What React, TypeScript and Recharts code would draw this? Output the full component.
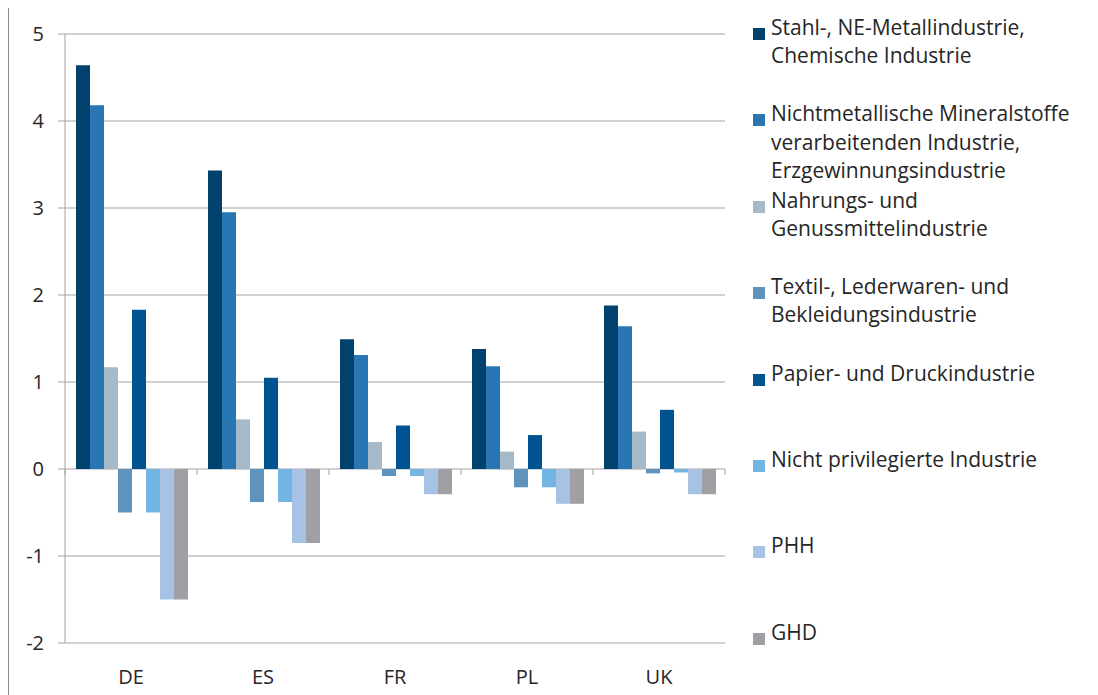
import React from 'react';
import { BarChart, Bar, XAxis, YAxis, CartesianGrid } from 'recharts';

const categories = ['DE', 'ES', 'FR', 'PL', 'UK'];

const stahlChemie = [4.64, 3.43, 1.49, 1.38, 1.88];
const nichtmetallisch = [4.18, 2.95, 1.31, 1.18, 1.64];
const nahrung = [1.17, 0.57, 0.31, 0.2, 0.43];
const textil = [-0.5, -0.38, -0.08, -0.21, -0.05];
const papier = [1.83, 1.05, 0.5, 0.39, 0.68];
const nichtPrivilegiert = [-0.5, -0.38, -0.08, -0.21, -0.04];
const phh = [-1.5, -0.85, -0.29, -0.4, -0.29];
const ghd = [-1.5, -0.85, -0.29, -0.4, -0.29];

const yTicks = [-2, -1, 0, 1, 2, 3, 4, 5];

const series = [
  { key: 'stahl', values: stahlChemie, color: '#00416e', label: ['Stahl-, NE-Metallindustrie,', 'Chemische Industrie'] },
  { key: 'nichtmetall', values: nichtmetallisch, color: '#2877b2', label: ['Nichtmetallische Mineralstoffe', 'verarbeitenden Industrie,', 'Erzgewinnungsindustrie'] },
  { key: 'nahrung', values: nahrung, color: '#a6b9c8', label: ['Nahrungs- und', 'Genussmittelindustrie'] },
  { key: 'textil', values: textil, color: '#5e93bd', label: ['Textil-, Lederwaren- und', 'Bekleidungsindustrie'] },
  { key: 'papier', values: papier, color: '#005391', label: ['Papier- und Druckindustrie'] },
  { key: 'nichtPriv', values: nichtPrivilegiert, color: '#72b4e2', label: ['Nicht privilegierte Industrie'] },
  { key: 'phh', values: phh, color: '#a6c3e6', label: ['PHH'] },
  { key: 'ghd', values: ghd, color: '#a0a0a4', label: ['GHD'] },
];

const chartData = categories.map((c, i) => {
  const row: Record<string, string | number> = { name: c };
  series.forEach((s) => {
    row[s.key] = s.values[i];
  });
  return row;
});

const FONT = '"Open Sans", Lato, sans-serif';
const GRID = '#a3a3a3';
const TEXT = '#262626';

const W = 1089;
const H = 687;
const M = { top: 26, right: 373, bottom: 0, left: 11 };
const Y_AXIS_W = 45;
const X_AXIS_H = 52;
const PLOT_W = W - M.left - M.right - Y_AXIS_W;
const PLOT_H = H - M.top - M.bottom - X_AXIS_H;
const BAND = PLOT_W / categories.length;
// distance from the bottom of the plot up to the zero line
const ZERO_UP = (PLOT_H * (0 - yTicks[0])) / (yTicks[yTicks.length - 1] - yTicks[0]);

const CategoryTick = (props: any) => {
  const { x, y, payload, index } = props;
  const zeroY = y - ZERO_UP;
  const last = index === categories.length - 1;
  return (
    <g>
      <line x1={x - BAND / 2} x2={x - BAND / 2} y1={zeroY} y2={zeroY + 6} stroke={GRID} />
      {last && <line x1={x + BAND / 2} x2={x + BAND / 2} y1={zeroY} y2={zeroY + 6} stroke={GRID} />}
      <text x={x} y={y + 41} textAnchor="middle" fill={TEXT} fontSize={20} fontFamily={FONT}>
        {payload.value}
      </text>
    </g>
  );
};

const LegendBox = () => (
  <div style={{ position: 'absolute', left: 744, top: 5, fontFamily: FONT, fontSize: 21, color: TEXT }}>
    {series.map((s, i) => (
      <div key={s.key} style={{ position: 'absolute', top: i * 86.4, left: 0, whiteSpace: 'nowrap' }}>
        <div style={{ position: 'absolute', left: 0, top: 15, width: 12, height: 12, background: s.color }} />
        <div style={{ marginLeft: 18, lineHeight: '28.3px' }}>
          {s.label.map((l) => (
            <div key={l}>{l}</div>
          ))}
        </div>
      </div>
    ))}
  </div>
);

export default function App() {
  return (
    <div
      style={{
        position: 'relative',
        width: W,
        height: H + 10,
        marginTop: -1,
        borderTop: '1px solid #8c8c8c',
        borderLeft: '1px solid #8c8c8c',
        background: '#fff',
      }}
    >
      <BarChart width={W} height={H} data={chartData} margin={M} barCategoryGap={11} barGap={0}>
        <CartesianGrid vertical={false} stroke={GRID} />
        <XAxis
          dataKey="name"
          axisLine={false}
          tickLine={false}
          tickSize={0}
          tickMargin={0}
          height={X_AXIS_H}
          tick={<CategoryTick />}
          interval={0}
        />
        <YAxis
          width={Y_AXIS_W}
          domain={[yTicks[0], yTicks[yTicks.length - 1]]}
          ticks={yTicks}
          interval={0}
          axisLine={{ stroke: GRID }}
          tickLine={{ stroke: GRID }}
          tickSize={7}
          tickMargin={14}
          tick={{ fill: TEXT, fontSize: 20, fontFamily: FONT }}
        />
        {series.map((s) => (
          <Bar key={s.key} dataKey={s.key} fill={s.color} isAnimationActive={false} />
        ))}
      </BarChart>
      <LegendBox />
    </div>
  );
}
